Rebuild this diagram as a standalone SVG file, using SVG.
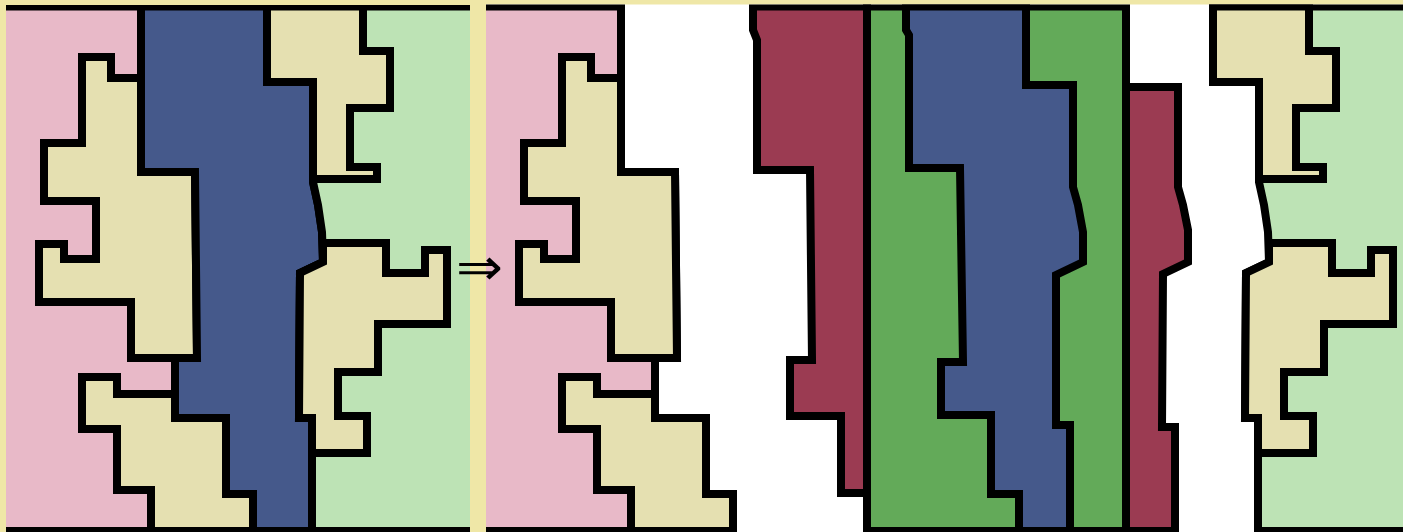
<svg xmlns="http://www.w3.org/2000/svg" width="1403" height="532" viewBox="0 0 1403 532">
<defs>
<style>
.s{stroke:#000;stroke-width:8;stroke-linejoin:miter;stroke-miterlimit:10}
.pink{fill:#e8b9c8}
.yel{fill:#e5e0b1}
.blue{fill:#45598b}
.lg{fill:#bde3b5}
.mar{fill:#9b3b52}
.grn{fill:#63aa59}
.arrow{font-family:"DejaVu Sans",sans-serif;font-size:52px;fill:#000}
</style>
<clipPath id="cl"><rect x="6" y="5" width="464" height="527"/></clipPath>
<clipPath id="cr"><rect x="486" y="4.5" width="917" height="527.5"/></clipPath>
<g id="leftPart">
<polygon class="pink s" points="0,6.5 141,6.5 141,172 195,172 197,358 175,358 175,418 226,418 226,494 253,494 253,531 0,531"/>
<polygon class="yel s" points="141,78 111,78 111,57 82,57 82,143 44,143 44,201 96,201 96,259 64,259 64,244 39,244 39,302 131,302 131,358 197,358 195,172 141,172"/>
<polygon class="yel s" points="82,377 117,377 117,394 175,394 175,418 226,418 226,494 253,494 253,531 151,531 151,490 117,490 117,429 82,429"/>
</g>
<g id="rightPart">
<polygon class="lg s" points="267,6.5 267,82 313,82 313,182 318,205 322,232 323,262 300,273 299,418 312,418 312,531 480,531 480,6.5"/>
<polygon class="yel s" points="267,6.5 363,6.5 363,51 390,51 390,108 350,108 350,167 377,167 377,179 313,179 313,82 267,82"/>
<polygon class="yel s" points="323,243 386,243 386,273 425,273 425,250 447,250 447,324 378,324 378,372 338,372 338,416 367,416 367,453 312,453 312,418 299,418 300,273 323,262"/>
</g>
</defs>
<rect x="0" y="0" width="1403" height="532" fill="#efe7a7"/>
<g id="panel-before" clip-path="url(#cl)">
<use href="#leftPart"/>
<polygon id="blue-band" class="blue s" points="141,6.5 141,172 195,172 197,358 175,358 175,418 226,418 226,494 253,494 253,531 312,531 312,418 299,418 300,273 323,262 322,232 318,205 313,182 313,82 267,82 267,6.5"/>
<use href="#rightPart"/>
</g>
<g id="panel-after" clip-path="url(#cr)">
<rect x="486" y="0" width="917" height="532" fill="#fff"/>
<use href="#leftPart" transform="translate(480,0)"/>
<polygon id="maroon-left" class="mar s" points="753,6.5 753,30 757,40 757,170 810,170 812,360 790,360 790,416 841,416 841,493 867,493 867,6.5"/>
<polygon id="green-band" class="grn s" points="867,6.5 1126,6.5 1126,531 867,531"/>
<polygon id="blue-band-after" class="blue s" points="906,6.5 906,30 909,35 909,168 960,168 963,362 941,362 941,415 991,415 991,494 1019,494 1019,531 1070,531 1070,425 1056,425 1056,275 1083,262 1083,232 1078,205 1073,187 1073,85 1026,85 1026,6.5"/>
<polygon id="maroon-right" class="mar s" points="1126,87 1178,87 1178,187 1183,205 1188,230 1188,262 1163,274 1162,427 1175,427 1175,531 1126,531"/>
<use href="#rightPart" transform="translate(946,0)"/>
</g>
<text id="arrow" class="arrow" x="456" y="285" textLength="47" lengthAdjust="spacingAndGlyphs">⇒</text>
</svg>
